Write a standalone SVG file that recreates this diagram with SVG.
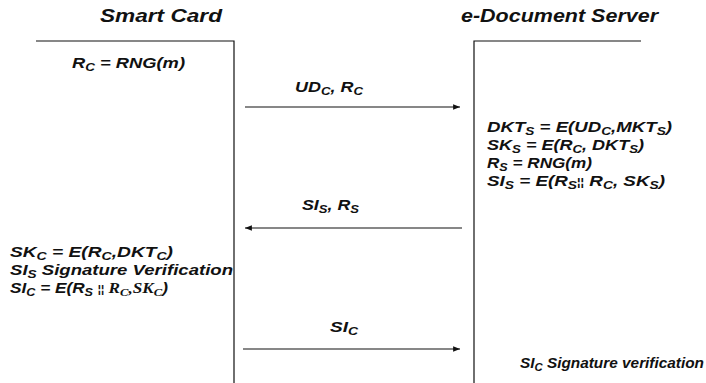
<svg xmlns="http://www.w3.org/2000/svg" width="706" height="383" viewBox="0 0 706 383">
<style>
text{font-family:"Liberation Sans",Arial,sans-serif;font-weight:bold;font-style:italic;fill:#111;font-size:15px}
.title{font-size:18px}
.ln{stroke:#111;stroke-width:1.2;fill:none}
.ser{font-family:"Liberation Serif","Times New Roman",serif}
</style>
<defs>
<marker id="ah" viewBox="0 0 10 8" refX="10" refY="4" markerWidth="7" markerHeight="5.5" orient="auto" markerUnits="userSpaceOnUse">
<path d="M0,0 L10,4 L0,8 z" fill="#111"/>
</marker>
</defs>
<rect width="706" height="383" fill="#fff"/>
<g id="smart-card">
<text class="title" x="100" y="22" textLength="122" lengthAdjust="spacingAndGlyphs">Smart Card</text>
<path class="ln" d="M36,41 H234 V383"/>
<text x="72" y="68" textLength="113" lengthAdjust="spacingAndGlyphs">R<tspan dy="3" font-size="11">C</tspan><tspan dy="-3"> = RNG(m)</tspan></text>
<text x="10" y="257" textLength="163" lengthAdjust="spacingAndGlyphs">SK<tspan dy="3" font-size="11">C</tspan><tspan dy="-3"> = E(R</tspan><tspan dy="3" font-size="11">C</tspan><tspan dy="-3">,DKT</tspan><tspan dy="3" font-size="11">C</tspan><tspan dy="-3">)</tspan></text>
<text x="10" y="275" textLength="223" lengthAdjust="spacingAndGlyphs">SI<tspan dy="3" font-size="11">S</tspan><tspan dy="-3"> Signature Verification</tspan></text>
<text x="10" y="293" textLength="158" lengthAdjust="spacingAndGlyphs">SI<tspan dy="3" font-size="11">C</tspan><tspan dy="-3"> = E(R</tspan><tspan dy="3" font-size="11">S</tspan><tspan dy="-3"> </tspan><tspan font-size="10" font-style="normal">¦¦</tspan><tspan class="ser"> R</tspan><tspan class="ser" dy="3" font-size="11">C</tspan><tspan class="ser" dy="-3">,SK</tspan><tspan class="ser" dy="3" font-size="11">C</tspan><tspan dy="-3">)</tspan></text>
</g>
<g id="server">
<text class="title" x="461" y="22" textLength="197" lengthAdjust="spacingAndGlyphs">e-Document Server</text>
<path class="ln" d="M474,383 V41 H641"/>
<text x="487" y="132" textLength="185" lengthAdjust="spacingAndGlyphs">DKT<tspan dy="3" font-size="11">S</tspan><tspan dy="-3"> = E(UD</tspan><tspan dy="3" font-size="11">C</tspan><tspan dy="-3">,MKT</tspan><tspan dy="3" font-size="11">S</tspan><tspan dy="-3">)</tspan></text>
<text x="487" y="150" textLength="157" lengthAdjust="spacingAndGlyphs">SK<tspan dy="3" font-size="11">S</tspan><tspan dy="-3"> = E(R</tspan><tspan dy="3" font-size="11">C</tspan><tspan dy="-3">, DKT</tspan><tspan dy="3" font-size="11">S</tspan><tspan dy="-3">)</tspan></text>
<text x="487" y="168" textLength="105" lengthAdjust="spacingAndGlyphs">R<tspan dy="3" font-size="11">S</tspan><tspan dy="-3"> = RNG(m)</tspan></text>
<text x="487" y="186" textLength="178" lengthAdjust="spacingAndGlyphs">SI<tspan dy="3" font-size="11">S</tspan><tspan dy="-3"> = E(R</tspan><tspan dy="3" font-size="11">S</tspan><tspan dy="-3" font-size="10" font-style="normal">¦¦</tspan><tspan> R</tspan><tspan dy="3" font-size="11">C</tspan><tspan dy="-3">, SK</tspan><tspan dy="3" font-size="11">S</tspan><tspan dy="-3">)</tspan></text>
<text x="520" y="368" textLength="184" lengthAdjust="spacingAndGlyphs">SI<tspan dy="3" font-size="11">C</tspan><tspan dy="-3"> Signature verification</tspan></text>
</g>
<g id="connectors">
<path class="ln" d="M245,107 H460" marker-end="url(#ah)"/>
<text x="295" y="92" textLength="68" lengthAdjust="spacingAndGlyphs">UD<tspan dy="3" font-size="11">C</tspan><tspan dy="-3">, R</tspan><tspan dy="3" font-size="11">C</tspan></text>
<path class="ln" d="M462,228 H245" marker-end="url(#ah)"/>
<text x="302" y="210" textLength="57" lengthAdjust="spacingAndGlyphs">SI<tspan dy="3" font-size="11">S</tspan><tspan dy="-3">, R</tspan><tspan dy="3" font-size="11">S</tspan></text>
<path class="ln" d="M243,349 H460" marker-end="url(#ah)"/>
<text x="330" y="332" textLength="28" lengthAdjust="spacingAndGlyphs">SI<tspan dy="3" font-size="11">C</tspan></text>
</g>
</svg>
